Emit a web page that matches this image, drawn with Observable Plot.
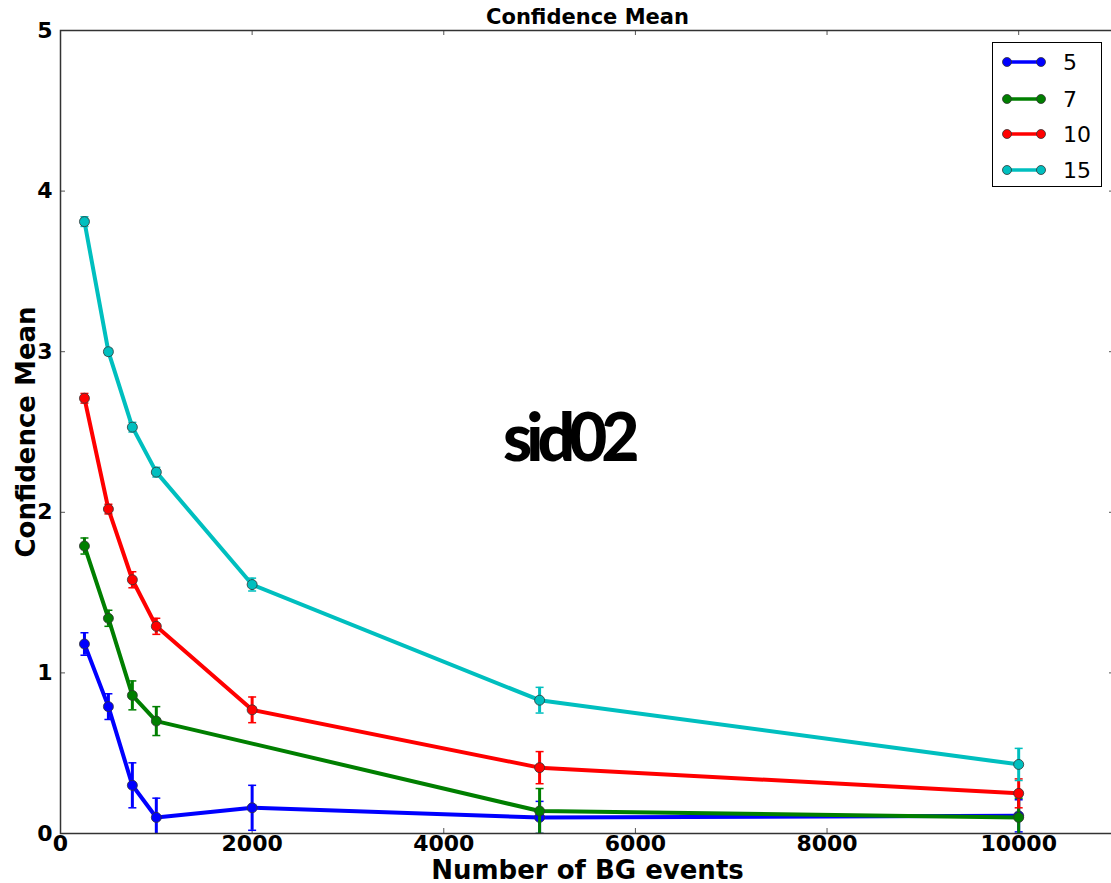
<!DOCTYPE html>
<html>
<head>
<meta charset="utf-8">
<script src="https://cdn.jsdelivr.net/npm/d3@7"></script>
<script src="https://cdn.jsdelivr.net/npm/@observablehq/plot@0.6"></script>
<style>
  html, body { margin: 0; padding: 0; background: #fff; overflow: hidden; }
  #wrap { position: relative; width: 1111px; height: 883px; }
  #legend {
    position: absolute; left: 992px; top: 42px; width: 108px; height: 143px;
    border: 1px solid #000; background: #fff; box-sizing: content-box;
    font-family: "DejaVu Sans", sans-serif; font-size: 22px; color: #000;
  }
  .entry { position: absolute; left: 0; height: 30px; display: flex; align-items: center; }
  .entry svg { margin-left: 8px; }
  .entry span { margin-left: 16px; }
</style>
</head>
<body>
<div id="wrap"><div id="legend"></div></div>
<script>
// Number of background events (x positions shared by all series)
const bgEvents = [250, 500, 750, 1000, 2000, 5000, 10000];

// Series labels and colours
const seriesNames = ["5", "7", "10", "15"];
const seriesColors = ["#0000ff", "#007f00", "#ff0000", "#00bfbf"];

// Confidence mean and its error for each series (null = not measured)
const mean5  = [1.18, 0.79, 0.30, 0.10, 0.16, 0.10, 0.11];
const err5   = [0.07, 0.08, 0.14, 0.12, 0.14, 0.10, 0.10];
const mean7  = [1.79, 1.34, 0.86, 0.70, null, 0.14, 0.10];
const err7   = [0.05, 0.05, 0.09, 0.09, null, 0.14, 0.12];
const mean10 = [2.71, 2.02, 1.58, 1.29, 0.77, 0.41, 0.25];
const err10  = [0.03, 0.03, 0.05, 0.05, 0.08, 0.10, 0.09];
const mean15 = [3.81, 3.00, 2.53, 2.25, 1.55, 0.83, 0.43];
const err15  = [0.03, 0.02, 0.03, 0.03, 0.04, 0.08, 0.10];

// Axis ticks
const xTicks = [0, 2000, 4000, 6000, 8000, 10000];
const yTicks = [0, 1, 2, 3, 4, 5];

const chartTitle = "Confidence Mean";
const xLabel = "Number of BG events";
const yLabel = "Confidence Mean";
const stamp = "sid02";
const stampAt = {x: 5300, y: 2.45};

const means = [mean5, mean7, mean10, mean15];
const errs = [err5, err7, err10, err15];

// Long-format table built from the arrays above
const rows = [];
seriesNames.forEach((name, s) => {
  bgEvents.forEach((x, i) => {
    if (means[s][i] == null) return;
    rows.push({series: name, x, y: means[s][i], lo: means[s][i] - errs[s][i], hi: means[s][i] + errs[s][i]});
  });
});

const W = 1111, H = 883;
const mL = 60, mR = -3, mT = 30, mB = 50;
const fw = W - mL - mR, fh = H - mT - mB;
const font = "DejaVu Sans, sans-serif";

// Flat horizontal symbol used for error-bar caps
const capSymbol = {
  draw(context, size) {
    const h = Math.sqrt(size / Math.PI);
    context.moveTo(-h, 0);
    context.lineTo(h, 0);
  }
};

const seriesMarks = seriesNames.flatMap((name, s) => {
  const data = rows.filter(d => d.series === name);
  const c = seriesColors[s];
  return [
    Plot.line(data, {x: "x", y: "y", stroke: c, strokeWidth: 4, clip: "frame"}),
    Plot.ruleX(data, {x: "x", y1: "lo", y2: "hi", stroke: c, strokeWidth: 3, clip: "frame"}),
    Plot.dot(data, {x: "x", y: "lo", symbol: capSymbol, r: 4, stroke: c, strokeWidth: 1.5, fill: "none", clip: "frame"}),
    Plot.dot(data, {x: "x", y: "hi", symbol: capSymbol, r: 4, stroke: c, strokeWidth: 1.5, fill: "none", clip: "frame"}),
    Plot.dot(data, {x: "x", y: "y", r: 5, fill: c, stroke: "#333", strokeWidth: 0.8, clip: "frame"})
  ];
});

const chart = Plot.plot({
  width: W, height: H,
  marginLeft: mL, marginRight: mR, marginTop: mT, marginBottom: mB,
  style: {fontFamily: font, background: "transparent"},
  x: {domain: [0, 11000]},
  y: {domain: [0, 5]},
  marks: [
    // inward ticks on all four sides
    Plot.tickX(xTicks, {x: d => d, insetTop: fh - 5, stroke: "#555"}),
    Plot.tickX(xTicks, {x: d => d, insetBottom: fh - 5, stroke: "#555"}),
    Plot.tickY(yTicks, {y: d => d, insetRight: fw - 5, stroke: "#555"}),
    Plot.tickY(yTicks, {y: d => d, insetLeft: fw - 5, stroke: "#555"}),
    ...seriesMarks,
    Plot.frame({stroke: "#333", strokeWidth: 1.5}),
    Plot.axisX({ticks: xTicks, tickSize: 0, tickPadding: 2, tickFormat: d => String(d),
      fontSize: 22, fontWeight: "bold", fill: "#000",
      label: xLabel, labelAnchor: "center", labelArrow: "none", labelOffset: 45}),
    Plot.axisY({ticks: yTicks, tickSize: 0, tickPadding: 8, tickFormat: d => String(d),
      fontSize: 22, fontWeight: "bold", fill: "#000",
      label: yLabel, labelAnchor: "center", labelArrow: "none", labelOffset: 44}),
    Plot.text([chartTitle], {frameAnchor: "top", lineAnchor: "middle", dy: -13, text: d => d,
      fontSize: 21, fontWeight: "bold", fill: "#000"}),
    Plot.text([stamp], {x: () => stampAt.x, y: () => stampAt.y, text: d => d,
      fontFamily: "Lato, sans-serif", fontWeight: 900, fontSize: 66, fill: "#000"})
  ]
});

// Axis-label styling (label text is inside the axis marks)
chart.querySelectorAll("g[aria-label='x-axis label'] text, g[aria-label='y-axis label'] text").forEach(t => {
  t.setAttribute("font-size", 26);
  t.setAttribute("font-weight", "bold");
  t.setAttribute("fill", "#000");
});
// Tight tracking for the stamp text
chart.querySelectorAll("text").forEach(t => {
  if (t.textContent === stamp) {
    t.setAttribute("letter-spacing", "-6");
    t.style.letterSpacing = "-6px";
  }
});

document.getElementById("wrap").prepend(chart);

// Legend built from the series arrays
const legend = document.getElementById("legend");
const rowTops = [4, 41, 76, 112];
seriesNames.forEach((name, s) => {
  const e = document.createElement("div");
  e.className = "entry";
  e.style.top = rowTops[s] + "px";
  const c = seriesColors[s];
  e.innerHTML = `<svg width="46" height="14"><line x1="6" y1="7" x2="40" y2="7" stroke="${c}" stroke-width="3.5"/>` +
    `<circle cx="6" cy="7" r="4.5" fill="${c}" stroke="#333" stroke-width="0.8"/>` +
    `<circle cx="40" cy="7" r="4.5" fill="${c}" stroke="#333" stroke-width="0.8"/></svg><span>${name}</span>`;
  legend.appendChild(e);
});
</script>
</body>
</html>
